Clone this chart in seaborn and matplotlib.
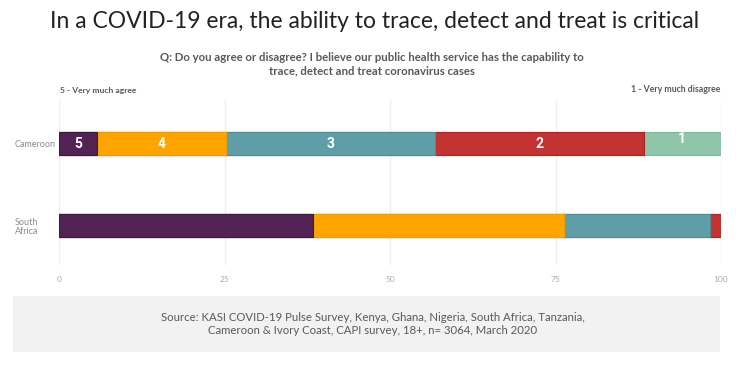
import matplotlib
matplotlib.use("Agg")
import matplotlib.pyplot as plt
import seaborn as sns
import numpy as np
import pandas as pd
from matplotlib.patches import Rectangle

countries = ["Cameroon", "South\nAfrica"]
levels = ["5", "4", "3", "2", "1"]
vals_5 = [5.8, 38.3]
vals_4 = [19.4, 38.0]
vals_3 = [31.6, 22.1]
vals_2 = [31.5, 1.6]
vals_1 = [11.7, 0.0]
colors = ["#522354", "#FFA500", "#5F9EA6", "#C23331", "#8FC6AA"]
edge_colors = ["#3d1a3f", "#f29d00", "#4f8c94", "#b01f22", "#7db89a"]
x_ticks = [0, 25, 50, 75, 100]

sns.set_theme(style="white")
plt.rcParams["font.family"] = ["Lato", "DejaVu Sans"]

fig = plt.figure(figsize=(7.4, 3.66), dpi=100)
W, H = 740, 366
ax = fig.add_axes([59 / W, 1 - 265 / H, (721 - 59) / W, (265 - 100) / H])

series = [vals_5, vals_4, vals_3, vals_2, vals_1]
cum = np.cumsum(np.array(series), axis=0)
df = pd.DataFrame({"country": countries})
# draw from largest cumulative to smallest so each segment shows
for i in range(len(levels) - 1, -1, -1):
    df["v"] = cum[i]
    sns.barplot(data=df, x="v", y="country", orient="h", color=colors[i],
                width=0.28, ax=ax, saturation=1, edgecolor=edge_colors[i],
                linewidth=0.8)

# labels on Cameroon row
for i, lab in enumerate(levels):
    left = cum[i][0] - series[i][0]
    center = left + series[i][0] / 2
    dy = -0.05 if lab == "1" else 0
    ax.text(center, 0 + dy, lab, color="white", fontsize=10, fontweight="bold",
            ha="center", va="center", family=["Roboto", "DejaVu Sans"])

ax.set_xlim(0, 100)
ax.set_ylim(1.48, -0.53)
ax.set_xticks(x_ticks)
ax.set_xticklabels([str(t) for t in x_ticks], color="#aaaaaa", fontsize=6)
ax.tick_params(axis="x", length=0, pad=8)
ax.tick_params(axis="y", length=0, pad=32)
for lbl in ax.get_yticklabels():
    lbl.set_ha("left")
    lbl.set_color("#8a8a8a")
    lbl.set_fontsize(6.5)
    lbl.set_linespacing(1.0)
ax.set_xlabel("")
ax.set_ylabel("")
ax.grid(axis="x", color="#eeeeee", linewidth=1)
ax.set_axisbelow(True)
for s in ax.spines.values():
    s.set_visible(False)

fig.text(375 / W, 1 - 22 / H, "In a COVID-19 era, the ability to trace, detect and treat is critical",
         ha="center", va="center", fontsize=16.5, color="#222222")
fig.text(372 / W, 1 - 64 / H,
         "Q: Do you agree or disagree? I believe our public health service has the capability to\ntrace, detect and treat coronavirus cases",
         ha="center", va="center", fontsize=8.2, color="#595959", fontweight="bold", linespacing=1.25)
fig.text(60 / W, 1 - 90 / H, "5 - Very much agree", ha="left", va="center",
         fontsize=6.1, color="#595959", fontweight="bold")
fig.text(720 / W, 1 - 90 / H, "1 - Very much disagree", ha="right", va="center",
         fontsize=6.3, color="#595959", fontweight="bold")

fig.patches.append(Rectangle((13 / W, 1 - 352 / H), (720 - 13) / W, (352 - 296) / H,
                             transform=fig.transFigure, facecolor="#f2f2f2",
                             edgecolor="none", zorder=0))
fig.text(373 / W, 1 - 324 / H,
         "Source: KASI COVID-19 Pulse Survey, Kenya, Ghana, Nigeria, South Africa, Tanzania,\nCameroon & Ivory Coast, CAPI survey, 18+, n= 3064, March 2020",
         ha="center", va="center", fontsize=8.2, color="#595959", linespacing=1.3)

fig.savefig("out.png", dpi=100)
